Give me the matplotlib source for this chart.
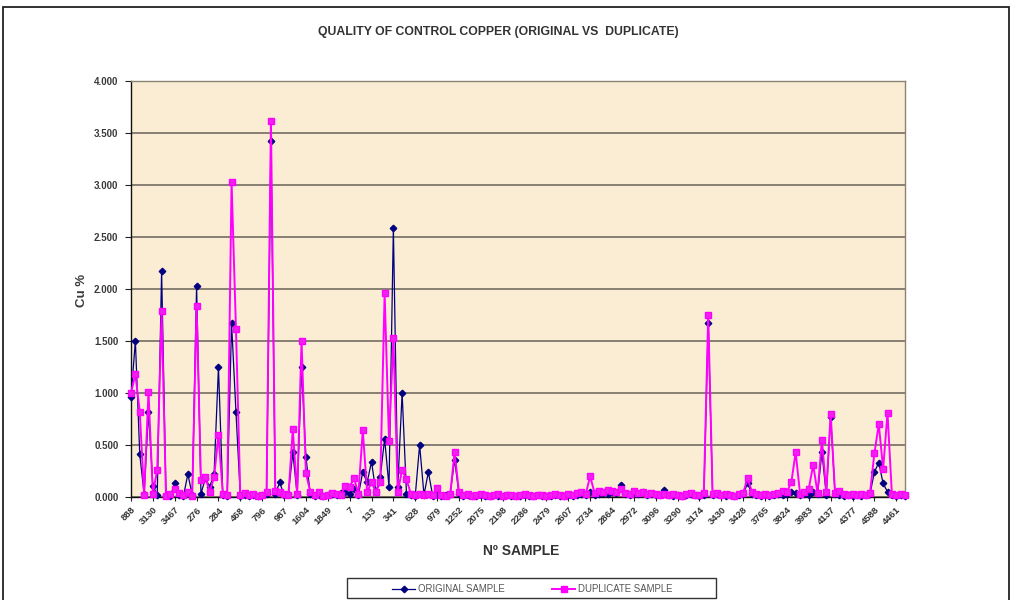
import matplotlib
matplotlib.use('Agg')
import matplotlib.pyplot as plt
from matplotlib.patches import Rectangle
from matplotlib.lines import Line2D

# ---------------- data ----------------
tick_labels = ['888', '3130', '3467', '276', '284', '468', '796', '987', '1604', '1849',
               '7', '133', '341', '628', '979', '1252', '2075', '2198', '2286', '2479',
               '2607', '2734', '2864', '2972', '3096', '3290', '3174', '3430', '3428', '3765',
               '3824', '3983', '4137', '4377', '4588', '4461']
label_step = 5

original = [
    0.96, 1.50, 0.41, 0.03, 0.82, 0.11, 0.02, 2.17, 0.02, 0.01,
    0.13, 0.02, 0.01, 0.22, 0.02, 2.03, 0.03, 0.18, 0.10, 0.22,
    1.25, 0.02, 0.01, 1.67, 0.82, 0.01, 0.02, 0.01, 0.02, 0.01,
    0.02, 0.03, 3.42, 0.03, 0.14, 0.02, 0.03, 0.43, 0.02, 1.25,
    0.38, 0.03, 0.01, 0.02, 0.01, 0.02, 0.03, 0.02, 0.04, 0.05,
    0.03, 0.08, 0.02, 0.24, 0.14, 0.34, 0.05, 0.19, 0.56, 0.10,
    2.59, 0.10, 1.00, 0.03, 0.02, 0.01, 0.50, 0.02, 0.24, 0.01,
    0.02, 0.01, 0.02, 0.03, 0.36, 0.03, 0.01, 0.02, 0.01, 0.01,
    0.02, 0.01, 0.01, 0.02, 0.01, 0.01, 0.02, 0.01, 0.01, 0.01,
    0.02, 0.01, 0.01, 0.02, 0.01, 0.01, 0.01, 0.02, 0.01, 0.01,
    0.02, 0.01, 0.02, 0.03, 0.02, 0.05, 0.02, 0.03, 0.04, 0.03,
    0.05, 0.04, 0.12, 0.03, 0.02, 0.04, 0.03, 0.05, 0.02, 0.03,
    0.02, 0.02, 0.07, 0.02, 0.01, 0.02, 0.01, 0.02, 0.03, 0.02,
    0.01, 0.02, 1.67, 0.02, 0.03, 0.02, 0.01, 0.02, 0.01, 0.02,
    0.03, 0.13, 0.03, 0.02, 0.01, 0.02, 0.01, 0.02, 0.03, 0.02,
    0.03, 0.05, 0.04, 0.02, 0.03, 0.02, 0.05, 0.03, 0.43, 0.02,
    0.77, 0.03, 0.02, 0.01, 0.02, 0.01, 0.02, 0.01, 0.02, 0.03,
    0.24, 0.33, 0.13, 0.05, 0.02, 0.01, 0.02, 0.01,
]

duplicate = [
    1.00, 1.18, 0.82, 0.02, 1.01, 0.03, 0.26, 1.79, 0.01, 0.03,
    0.08, 0.04, 0.02, 0.05, 0.01, 1.84, 0.16, 0.19, 0.05, 0.19,
    0.60, 0.03, 0.02, 3.03, 1.62, 0.02, 0.04, 0.02, 0.03, 0.01,
    0.02, 0.05, 3.62, 0.06, 0.05, 0.03, 0.02, 0.65, 0.03, 1.50,
    0.23, 0.05, 0.02, 0.05, 0.01, 0.02, 0.04, 0.03, 0.02, 0.11,
    0.10, 0.18, 0.03, 0.64, 0.05, 0.14, 0.05, 0.14, 1.96, 0.54,
    1.53, 0.05, 0.26, 0.17, 0.03, 0.02, 0.03, 0.02, 0.03, 0.02,
    0.09, 0.02, 0.01, 0.03, 0.43, 0.05, 0.02, 0.03, 0.01, 0.02,
    0.03, 0.02, 0.01, 0.02, 0.03, 0.01, 0.02, 0.02, 0.01, 0.02,
    0.03, 0.02, 0.01, 0.02, 0.02, 0.01, 0.02, 0.03, 0.02, 0.01,
    0.03, 0.02, 0.04, 0.05, 0.03, 0.20, 0.04, 0.06, 0.05, 0.07,
    0.06, 0.05, 0.08, 0.04, 0.03, 0.06, 0.04, 0.05, 0.03, 0.04,
    0.03, 0.02, 0.03, 0.02, 0.03, 0.02, 0.01, 0.03, 0.04, 0.02,
    0.02, 0.04, 1.75, 0.03, 0.04, 0.02, 0.03, 0.02, 0.01, 0.03,
    0.04, 0.18, 0.05, 0.03, 0.02, 0.03, 0.02, 0.03, 0.04, 0.06,
    0.05, 0.14, 0.43, 0.03, 0.05, 0.08, 0.31, 0.04, 0.55, 0.05,
    0.80, 0.04, 0.06, 0.03, 0.02, 0.03, 0.02, 0.03, 0.02, 0.04,
    0.42, 0.70, 0.27, 0.81, 0.03, 0.02, 0.03, 0.02,
]

y_ticks = [0.0, 0.5, 1.0, 1.5, 2.0, 2.5, 3.0, 3.5, 4.0]

# ---------------- figure ----------------
W, H = 1016, 600
fig = plt.figure(figsize=(W / 100, H / 100), dpi=100)
fig.patch.set_facecolor('white')

# outer chart border
fig.patches.append(Rectangle((3 / W, -0.05), (1009 - 3) / W, 1.05 - 7 / H,
                             transform=fig.transFigure, fill=False,
                             edgecolor='#222222', linewidth=1.3))

L, R, T, B = 131, 905, 81, 497
ax = fig.add_axes([L / W, 1 - B / H, (R - L) / W, (B - T) / H])
ax.set_facecolor('#FBEDD4')

x = list(range(len(original)))
ax.plot(x, original, color='#000080', lw=0.9, marker='D', ms=3.3,
        mfc='#000080', mec='#000080', clip_on=False, zorder=3)
ax.plot(x, duplicate, color='#FF00FF', lw=1.4, marker='s', ms=5.0,
        mfc='#EE22EE', mec='#FF00FF', clip_on=False, zorder=4)

ax.set_xlim(0, len(original) - 1)
ax.set_ylim(0, 4.0)

ax.set_yticks(y_ticks)
ax.set_yticklabels([f'{v:.3f}' for v in y_ticks], fontsize=7,
                   fontweight='bold', color='#3a3a3a', family='Liberation Sans')
ax.yaxis.grid(True, color='#7d776a', lw=1.3)
ax.set_axisbelow(True)

tick_pos = [i * label_step for i in range(len(tick_labels))]
ax.set_xticks(tick_pos)
ax.set_xticklabels(tick_labels, rotation=45, ha='right', va='top',
                   rotation_mode='anchor', fontsize=6.8, fontweight='bold',
                   color='#333333', family='Liberation Sans')
ax.tick_params(axis='x', length=3, width=0.8, color='#222222', pad=3)
ax.tick_params(axis='y', length=4, width=0.8, color='#222222', pad=5)

for side in ['top', 'right']:
    ax.spines[side].set_color('#8a8475')
    ax.spines[side].set_linewidth(1.0)
ax.spines['left'].set_color('#111111')
ax.spines['left'].set_linewidth(1.0)
ax.spines['bottom'].set_color('#111111')
ax.spines['bottom'].set_linewidth(1.0)

fig.text(82 / W, 1 - 290 / H, 'Cu %', ha='center', va='center', rotation=90,
         fontsize=9.5, fontweight='bold', color='#3a3a3a', family='Liberation Sans')
fig.text(521 / W, 1 - 551 / H, 'Nº SAMPLE', ha='center', va='center',
         fontsize=10, fontweight='bold', color='#333333', family='Liberation Sans')

fig.text(498 / W, 1 - 32 / H, 'QUALITY OF CONTROL COPPER (ORIGINAL VS  DUPLICATE)',
         ha='center', va='center', fontsize=8.8, fontweight='bold',
         color='#333333', family='Liberation Sans')

# legend box
lx0, lx1, ly0, ly1 = 347, 716, 578, 598
fig.patches.append(Rectangle((lx0 / W, 1 - ly1 / H), (lx1 - lx0) / W, (ly1 - ly0) / H,
                             transform=fig.transFigure, facecolor='white',
                             edgecolor='#333333', linewidth=1.0))
ym = 1 - 589 / H
fig.lines.append(Line2D([392 / W, 415 / W], [ym, ym], transform=fig.transFigure,
                        color='#000080', lw=0.9))
fig.lines.append(Line2D([403.5 / W], [ym], transform=fig.transFigure,
                        color='#000080', marker='D', ms=3.3, lw=0))
fig.text(418 / W, ym, 'ORIGINAL SAMPLE', ha='left', va='center', fontsize=6.9,
         color='#555555', family='Liberation Sans')
fig.lines.append(Line2D([552 / W, 575 / W], [ym, ym], transform=fig.transFigure,
                        color='#FF00FF', lw=1.4))
fig.lines.append(Line2D([563.5 / W], [ym], transform=fig.transFigure,
                        color='#FF00FF', marker='s', ms=5.0, lw=0))
fig.text(578 / W, ym, 'DUPLICATE SAMPLE', ha='left', va='center', fontsize=6.9,
         color='#555555', family='Liberation Sans')

fig.savefig('out.png', dpi=100)
